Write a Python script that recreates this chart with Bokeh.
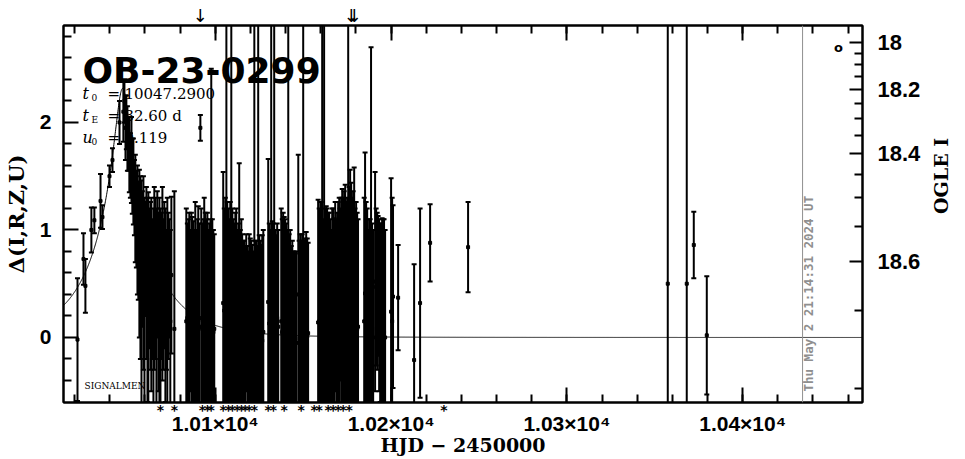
import numpy as np
from bokeh.plotting import figure
from bokeh.models import (Range1d, LinearAxis, FixedTicker, CustomJSTickFormatter, Label,
                          ColumnDataSource, Span)
from bokeh.embed import file_html
from bokeh.resources import INLINE

# ---------------- data ----------------
event_name = "OB-23-0299"
t0, tE, u0 = 10047.2900, 32.60, 0.119
I_base, f_source = 18.671, 0.074

hjd = [10021.6, 10025.0, 10026.1, 10029.5, 10031.2, 10034.7, 10035.8, 10039.8, 10041.5, 10045.5,
       10047.7, 10048.3, 10048.9, 10049.4, 10050.0, 10050.6, 10051.1, 10051.7, 10052.3, 10052.8,
       10053.4, 10054.0, 10054.5, 10055.1, 10055.7, 10056.2, 10056.8, 10058.0, 10058.5, 10059.1,
       10059.7, 10060.2, 10060.8, 10061.9, 10062.5, 10063.6, 10064.2, 10065.3, 10066.5, 10067.0,
       10068.2, 10069.3, 10069.9, 10071.0, 10072.2, 10072.7, 10073.9, 10075.0, 10076.7,
       10083.5, 10084.1, 10085.2, 10085.8, 10086.9, 10087.5, 10088.6, 10089.2, 10090.3, 10090.9,
       10091.5, 10092.0, 10093.2, 10093.7, 10094.9, 10095.5, 10096.6, 10097.7, 10098.3, 10098.9,
       10104.5, 10105.1, 10106.3, 10106.8, 10108.0, 10109.1, 10109.7, 10110.8, 10111.4, 10112.5,
       10113.6, 10114.8, 10115.9, 10117.0, 10117.6, 10118.8, 10119.9, 10121.0, 10122.2, 10123.3,
       10124.4, 10125.0, 10126.1, 10127.3,
       10130.1, 10130.7, 10131.8, 10132.4, 10133.5, 10134.1, 10135.2,
       10137.5, 10138.6, 10139.8, 10140.3, 10141.5, 10142.6, 10143.8, 10144.3, 10145.5, 10146.0,
       10147.2, 10148.3, 10148.9, 10150.0, 10151.1, 10151.7, 10152.8,
       10158.5, 10159.7, 10160.8, 10161.9, 10163.1, 10163.6, 10164.8, 10165.9, 10166.5, 10167.6,
       10168.2, 10169.3, 10170.5, 10171.0, 10172.2, 10172.7, 10173.9, 10174.4, 10175.6, 10176.7,
       10177.3, 10177.8, 10179.0, 10179.5, 10180.7, 10181.2, 10184.7, 10185.2, 10186.4, 10186.9,
       10188.1, 10188.6, 10189.2, 10190.9, 10191.5, 10192.6, 10193.8, 10194.9, 10196.0, 10200.0,
       10201.1, 10204.0, 10213.1, 10216.5, 10222.2, 10243.8, 10357.4, 10368.2, 10372.2, 10379.6,
       10057.4, 10061.4, 10063.1, 10064.8, 10065.9, 10067.6, 10068.8, 10070.5, 10071.6, 10073.3,
       10074.4, 10084.7, 10086.4, 10088.1, 10089.8, 10092.6, 10094.3, 10096.0, 10097.2, 10099.4,
       10105.7, 10107.4, 10108.5, 10110.2, 10111.9, 10113.1, 10114.2, 10115.3, 10116.5, 10118.2,
       10119.3, 10120.5, 10121.6, 10122.7, 10123.9, 10125.6, 10126.7, 10131.3, 10133.0, 10134.7,
       10135.8, 10138.1, 10139.2, 10140.9, 10142.0, 10143.2, 10144.9, 10147.7, 10149.4, 10150.6,
       10152.3, 10159.1, 10160.2, 10161.4, 10162.5, 10164.2, 10165.3, 10167.0, 10168.8, 10169.9,
       10171.6, 10173.3, 10175.0, 10176.1, 10178.4, 10180.1, 10185.8, 10187.5, 10189.8, 10192.1,
       10193.2, 10194.3, 10195.5, 10196.6, 10200.6]

delta = [-0.02, 0.73, 0.48, 1.00, 1.09, 1.27, 1.12, 1.50, 1.65, 2.00,
         2.10, 2.20, 1.95, 2.00, 1.85, 1.80, 1.70, 1.60, 1.65, 1.50,
         1.45, 1.30, 1.20, 1.10, 1.00, 0.90, 0.78, 0.28, 0.73, 0.60,
         0.25, 0.73, 0.60, 0.30, 0.55, 0.40, 0.45, 0.55, 0.20, 0.68,
         0.30, 0.48, 0.50, 0.58, 0.35, 0.25, 0.55, 0.58, 0.08,
         0.15, 0.18, 0.08, 0.25, 0.11, 0.14, 0.08, 0.20, 0.16, 0.18,
         1.95, 0.10, 0.15, 0.20, 0.20, 0.08, 0.08, 0.75, 0.15, 0.05,
         0.32, 0.25, 0.50, 0.13, 0.15, 0.40, 0.15, 0.23, 0.08, 0.15,
         0.36, 0.15, 0.05, -0.08, 0.23, -0.05, -0.04, 0.08, 0.50, 0.00,
         0.45, -0.03, 0.03, 0.05,
         0.33, 0.13, 0.50, 0.04, 0.60, 0.05, 0.18,
         0.15, 0.08, 0.15, 0.23, 0.50, 0.05, 0.10, -0.10, -0.01, -0.05,
         0.40, 0.08, -0.05, 0.50, 0.11, -0.01, 0.04,
         0.14, 0.18, 0.50, 0.40, 0.21, 0.10, 0.13, 0.20, 0.10, 0.13,
         0.38, 0.08, 0.25, 0.40, 0.19, 0.30, 0.26, 0.13, 0.50, 0.33,
         0.22, 0.25, 0.29, 0.30, 0.08, 0.10, 0.15, 0.41, 0.10, 0.10,
         0.05, 0.85, 0.08, 0.52, 0.47, 0.48, 0.23, 0.26, 0.05, 0.24,
         0.38, 0.37, -0.21, 0.32, 0.88, 0.84, 0.50, 0.50, 0.86, 0.02,
         0.65, 0.35, 0.48, 0.15, 0.55, 0.33, 0.15, 0.40, 0.30, 0.48,
         0.15, 0.10, 0.08, 0.10, 0.05, 0.08, 0.18, 0.00, 0.20, 0.08,
         0.15, 0.20, 0.13, 0.10, 0.10, 0.13, 0.00, 0.03, 0.10, -0.08,
         0.08, -0.05, -0.05, 0.05, -0.08, 0.00, -0.03, 0.00, 0.08, -0.03,
         0.10, 0.05, 0.11, 0.00, 0.08, -0.08, -0.05, -0.05, 0.03, -0.05,
         0.01, 0.15, 0.13, 0.15, 0.10, 0.13, 0.05, 0.20, 0.05, 0.18,
         0.15, 0.23, 0.15, 0.30, 0.18, 0.18, 0.13, 0.10, 0.00, 0.43,
         0.30, 0.23, 0.15, 0.00, 0.15]

sigma = [0.57, 0.24, 0.25, 0.21, 0.12, 0.25, 0.11, 0.10, 0.11, 0.20,
         0.28, 0.20, 0.30, 0.25, 0.30, 0.25, 0.35, 0.30, 0.40, 0.35,
         0.40, 0.35, 0.50, 0.45, 0.60, 0.55, 0.78, 1.18, 0.63, 0.90,
         1.05, 0.53, 0.80, 1.05, 0.65, 0.90, 0.65, 0.85, 1.00, 0.68,
         1.00, 0.68, 0.90, 0.68, 0.65, 1.05, 0.55, 0.73, 1.28,
         1.05, 0.88, 1.08, 0.75, 1.01, 0.94, 1.18, 0.80, 1.06, 0.88,
         0.12, 1.10, 0.95, 1.10, 0.90, 1.08, 0.98, 1.75, 0.95, 0.95,
         1.22, 0.95, 4.00, 1.13, 0.95, 4.00, 1.05, 0.83, 1.08, 0.85,
         1.26, 0.95, 0.85, 0.93, 0.73, 0.85, 0.96, 0.78, 4.00, 0.90,
         4.00, 0.98, 0.83, 0.95,
         1.33, 0.93, 4.00, 1.04, 4.00, 0.95, 0.88,
         1.05, 1.08, 0.95, 0.83, 4.00, 0.95, 0.80, 0.90, 0.79, 0.85,
         1.30, 0.88, 0.95, 4.00, 0.81, 0.99, 0.84,
         1.14, 1.08, 4.00, 4.00, 1.01, 1.10, 1.03, 0.80, 1.10, 0.98,
         0.88, 1.08, 1.05, 0.80, 1.19, 1.00, 1.16, 1.13, 4.00, 1.23,
         1.22, 1.05, 1.29, 0.90, 1.08, 1.00, 1.15, 1.31, 1.10, 0.90,
         1.05, 1.85, 0.98, 1.02, 0.73, 0.65, 0.83, 0.85, 1.05, 1.24,
         0.85, 0.49, 0.89, 0.88, 0.36, 0.42, 4.00, 4.00, 0.31, 0.55,
         0.85, 0.95, 0.78, 1.05, 0.75, 0.83, 1.05, 0.70, 0.90, 0.68,
         0.85, 1.00, 1.08, 0.90, 1.05, 0.98, 0.98, 1.00, 0.90, 0.88,
         1.15, 1.00, 1.13, 1.00, 1.10, 0.93, 1.00, 0.93, 0.80, 0.93,
         0.88, 0.95, 0.85, 0.85, 0.93, 0.90, 0.98, 1.00, 0.98, 0.98,
         0.90, 1.05, 1.01, 1.00, 0.88, 0.93, 0.85, 0.95, 0.93, 0.95,
         0.91, 1.05, 1.13, 0.95, 1.10, 1.03, 1.05, 1.00, 1.05, 1.08,
         1.15, 1.13, 1.15, 1.10, 1.18, 1.08, 1.13, 1.00, 1.00, 0.73,
         0.80, 0.83, 0.95, 1.00, 1.15]

# epochs marked with asterisks below the frame
star_hjd = [10068.75, 10076.7, 10092.6, 10095.5, 10097.7, 10104.5, 10107.4, 10109.7, 10112.5,
            10114.8, 10117.0, 10119.3, 10122.2, 10130.1, 10133.0, 10139.2, 10148.9, 10156.3,
            10159.1, 10164.2, 10167.0, 10169.9, 10172.7, 10176.1, 10230.1]
# epochs marked with arrows above the frame
arrow_hjd = [10091.5, 10177.3, 10179.0]

x_major = [10100, 10200, 10300, 10400]
x_minor = list(range(10020, 10461, 20))
y_major = [0, 1, 2]
y_minor = [-0.4, -0.2, 0.2, 0.4, 0.6, 0.8, 1.2, 1.4, 1.6, 1.8, 2.2, 2.4, 2.6, 2.8]
mag_major = [18.0, 18.2, 18.4, 18.6]
mag_minor = [18.05, 18.1, 18.15, 18.25, 18.3, 18.35, 18.45, 18.5, 18.55, 18.65, 18.7]
stamp = "Thu May  2 21:14:31 2024 UT"

# ---------------- layout ----------------
XL, XR = 10013.64, 10468.18
YB, YT = -0.605, 2.902
W, H = 965, 459
FL, FR, FT, FB = 62, 862, 25, 402


def dx(px):
    return XL + (px - FL) * (XR - XL) / (FR - FL)


def dy(py):
    return YT - (py - FT) * (YT - YB) / (FB - FT)


def mag_to_delta(m):
    m = np.asarray(m, dtype=float)
    return 2.5 * np.log10((10 ** (-0.4 * (m - I_base)) - 1) / f_source + 1)


p = figure(width=W, height=H, x_range=Range1d(XL, XR), y_range=Range1d(YB, YT),
           x_axis_type=None, y_axis_type=None, output_backend="svg", toolbar_location=None,
           min_border_left=FL, min_border_right=W - FR, min_border_top=FT,
           min_border_bottom=H - FB)
p.background_fill_color = "white"
p.border_fill_color = "white"
p.outline_line_color = "black"
p.outline_line_width = 2


def style(ax, mj=14, mn=8):
    ax.axis_line_width = 2
    ax.axis_line_color = "black"
    ax.major_tick_in = mj
    ax.major_tick_out = 0
    ax.minor_tick_in = mn
    ax.minor_tick_out = 0
    ax.major_tick_line_width = 2
    ax.minor_tick_line_width = 2
    ax.major_tick_line_color = "black"
    ax.minor_tick_line_color = "black"
    ax.major_label_text_font = "Liberation Sans"
    ax.major_label_text_font_style = "bold"
    ax.major_label_text_font_size = "21px"
    ax.major_label_text_color = "black"
    ax.axis_label_text_font = "DejaVu Serif"
    ax.axis_label_text_font_style = "bold"
    ax.axis_label_text_font_size = "20px"
    ax.axis_label_text_color = "black"


def bare(ax, font, size, style_="normal"):
    ax.axis_line_color = None
    ax.major_tick_line_color = None
    ax.minor_tick_line_color = None
    ax.major_tick_in = 0
    ax.major_tick_out = 0
    ax.minor_tick_in = 0
    ax.minor_tick_out = 0
    ax.major_label_text_font = font
    ax.major_label_text_font_size = size
    ax.major_label_text_font_style = style_
    ax.major_label_text_color = "black"


xt = FixedTicker(ticks=x_major, minor_ticks=x_minor)
bottom = LinearAxis(ticker=xt, formatter=CustomJSTickFormatter(
    code="return (tick/1e4).toFixed(2) + '\u00d710\u2074';"))
style(bottom, 15, 8)
bottom.major_label_standoff = 9
bottom.axis_label = "HJD \u2212 2450000"
bottom.axis_label_text_font_size = "19px"
bottom.axis_label_standoff = -4
p.add_layout(bottom, "below")

# asterisks under the frame: labels of a bare axis pulled up against the frame
star_ax = LinearAxis(ticker=FixedTicker(ticks=star_hjd, minor_ticks=[]),
                     formatter=CustomJSTickFormatter(code="return '*';"))
bare(star_ax, "DejaVu Sans", "14px", "bold")
star_ax.major_label_standoff = -57
p.add_layout(star_ax, "below")

top = LinearAxis(ticker=xt, formatter=CustomJSTickFormatter(code="return '';"))
style(top, 15, 8)
top.major_label_text_font_size = "0px"
top.major_label_standoff = 0
p.add_layout(top, "above")

arrow_ax = LinearAxis(ticker=FixedTicker(ticks=arrow_hjd, minor_ticks=[]),
                      formatter=CustomJSTickFormatter(code="return '\u2193';"))
bare(arrow_ax, "DejaVu Sans", "18px")
arrow_ax.major_label_standoff = 0
p.add_layout(arrow_ax, "above")

left = LinearAxis(ticker=FixedTicker(ticks=y_major, minor_ticks=y_minor))
style(left, 15, 8)
left.major_label_standoff = 12
left.axis_label = "\u0394(I,R,Z,U)"
left.axis_label_text_font_size = "21px"
left.axis_label_standoff = 8
p.add_layout(left, "left")

right = LinearAxis(ticker=FixedTicker(ticks=list(mag_to_delta(mag_major)),
                                      minor_ticks=list(mag_to_delta(mag_minor))),
                   formatter=CustomJSTickFormatter(
                       args=dict(ib=I_base, fs=f_source),
                       code="const I = ib - 2.5*Math.log10(fs*(Math.pow(10,0.4*tick)-1)+1);"
                            "return String(Math.round(I*10)/10);"))
style(right, 13, 8)
right.major_label_text_font_size = "22px"
right.major_label_standoff = 15
p.add_layout(right, "right")

# right-hand title as the single label (reading upwards) of a bare axis
title_ax = LinearAxis(ticker=FixedTicker(ticks=[dy(213.5)], minor_ticks=[]),
                      formatter=CustomJSTickFormatter(code="return 'OGLE I';"))
bare(title_ax, "DejaVu Serif", "19px", "bold")
title_ax.major_label_orientation = float(np.pi / 2)
title_ax.major_label_standoff = 17
p.add_layout(title_ax, "right")

# ---------------- model curve ----------------
tt = np.linspace(XL, XR, 3000)
uu = np.sqrt(u0 ** 2 + ((tt - t0) / tE) ** 2)
AA = (uu ** 2 + 2) / (uu * np.sqrt(uu ** 2 + 4))
p.line(tt, 2.5 * np.log10(AA), line_color="black", line_width=1)

# ---------------- data points with error bars ----------------
hj = np.array(hjd)
dl = np.array(delta)
sg = np.array(sigma)
src = ColumnDataSource(dict(t=hj, d=dl, lo=dl - sg, hi=dl + sg))
p.segment(x0="t", y0="lo", x1="t", y1="hi", source=src, line_color="black", line_width=2)
p.scatter(x="t", y="lo", source=src, marker="dash", size=5, line_color="black", line_width=2)
p.scatter(x="t", y="hi", source=src, marker="dash", size=5, line_color="black", line_width=2)
p.scatter(x="t", y="d", source=src, marker="square", size=3, color="black")

# timestamp line and text
p.add_layout(Span(location=dx(802), dimension="height", line_color="#8f8f8f", line_width=1))
p.add_layout(Label(x=dx(808), y=dy(391), text=stamp, angle=90, angle_units="deg",
                   text_align="left", text_baseline="middle", text_color="#8f8f8f",
                   text_font="DejaVu Sans Mono", text_font_style="bold",
                   text_font_size="12.5px"))

# ---------------- texts in the frame ----------------
p.add_layout(Label(x=dx(81), y=dy(70), text=event_name, text_font="DejaVu Sans",
                   text_font_style="bold", text_font_size="36px", text_baseline="alphabetic",
                   text_color="black"))

rows = [("t", "0", f"{t0:.4f}", 93), ("t", "E", f"{tE:.2f} d", 115), ("u", "0", f"{u0:.3f}", 137)]
for sym, sub, val, py in rows:
    p.add_layout(Label(x=dx(81), y=dy(py), text=sym, text_font="DejaVu Serif",
                       text_font_style="italic", text_font_size="16px",
                       text_baseline="alphabetic", text_color="black"))
    p.add_layout(Label(x=dx(90), y=dy(py + 4), text=sub, text_font="DejaVu Serif",
                       text_font_size="9px", text_baseline="alphabetic", text_color="black"))
    p.add_layout(Label(x=dx(106), y=dy(py), text="=", text_font="DejaVu Serif",
                       text_font_size="15px", text_baseline="alphabetic", text_color="black"))
    p.add_layout(Label(x=dx(123), y=dy(py), text=val, text_font="DejaVu Serif",
                       text_font_size="15px", text_baseline="alphabetic", text_color="black"))

p.add_layout(Label(x=dx(83), y=dy(385), text="SIGNALMEN", text_font="DejaVu Serif",
                   text_font_size="9px", text_baseline="alphabetic", text_color="black"))

p.add_layout(Label(x=dx(838), y=dy(47), text="o", text_font="DejaVu Sans",
                   text_font_style="bold", text_font_size="13px", text_align="center",
                   text_baseline="middle", text_color="black"))

open("out.html", "w").write(file_html(p, INLINE))
